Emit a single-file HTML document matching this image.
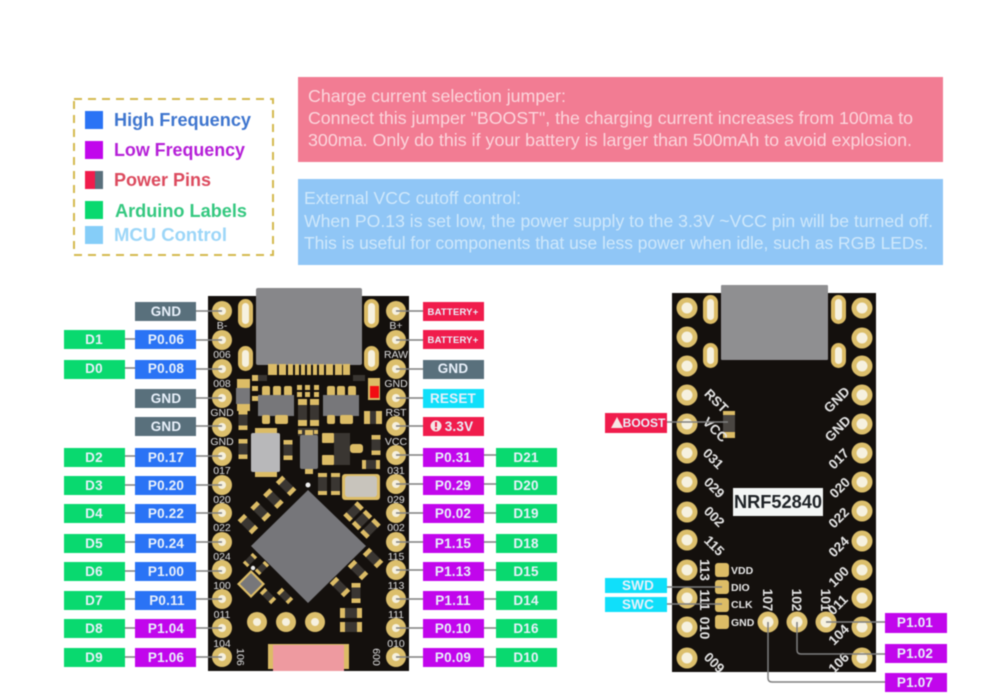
<!DOCTYPE html>
<html><head><meta charset="utf-8"><style>
html,body{margin:0;padding:0;background:#fff;width:982px;height:697px;overflow:hidden}
svg{display:block;filter:blur(.5px)}
text{font-family:"Liberation Sans",sans-serif}
.l{font-weight:bold;font-size:13.5px;fill:#e9f1fb;text-anchor:middle;letter-spacing:.2px}
.s{font-size:10.5px;fill:#dedede;text-anchor:middle}
.r{font-size:13.5px;fill:#e4e4e4;text-anchor:middle;font-weight:bold}
.p{font-size:17.5px;fill:#fbd5dc}
.q{font-size:17.5px;fill:#cfe8fb}
.k{font-weight:bold;font-size:18.5px}
.b{fill:#2a73f5}.u{fill:#c106ec}.g{fill:#09d96f}.y{fill:#59707c}.e{fill:#f01c4c}.c{fill:#10dffa}
.cn{stroke:#7f7f7f;stroke-width:1.5;fill:none}
.au{fill:#dcbc66}.dk{fill:#3a3632}.gr{fill:#77777a}
</style></head><body>
<svg width="982" height="697" viewBox="0 0 982 697" xmlns="http://www.w3.org/2000/svg">
<defs>
<g id="pa"><circle r="10" fill="#dcbf6c"/><circle r="4" fill="#f6f1df"/></g>
<g id="pb"><circle r="10.5" fill="#dcbf6c"/><circle r="5.5" fill="#f6f1df"/></g>
<g id="res"><rect x="-4.5" y="-10" width="9" height="20" class="dk"/><rect x="-4.5" y="-10" width="9" height="4.5" class="au"/><rect x="-4.5" y="5.5" width="9" height="4.5" class="au"/></g>
</defs>
<rect width="982" height="697" fill="#fff"/>

<!-- legend -->
<rect x="74" y="99" width="199" height="156" fill="#fff" stroke="#d4b94e" stroke-width="2" stroke-dasharray="8 6"/>
<rect x="85" y="111" width="18" height="18" fill="#2a73f5"/>
<rect x="85" y="141" width="18" height="18" fill="#c106ec"/>
<rect x="85" y="171" width="18" height="18" fill="#59707c"/><rect x="85" y="171" width="10" height="18" fill="#f01c4c"/>
<rect x="85" y="201" width="18" height="18" fill="#09d96f"/>
<rect x="85" y="226" width="18" height="18" fill="#85cdf8"/>
<text x="114" y="126" class="k" fill="#3f76cf" textLength="137" lengthAdjust="spacingAndGlyphs">High Frequency</text>
<text x="114" y="156" class="k" fill="#b51fd8" textLength="131" lengthAdjust="spacingAndGlyphs">Low Frequency</text>
<text x="114" y="186" class="k" fill="#dc4a5e" textLength="97" lengthAdjust="spacingAndGlyphs">Power Pins</text>
<text x="115" y="217" class="k" fill="#35c880" textLength="132" lengthAdjust="spacingAndGlyphs">Arduino Labels</text>
<text x="114" y="241" class="k" fill="#9cd6f8" textLength="113" lengthAdjust="spacingAndGlyphs">MCU Control</text>

<!-- panels -->
<rect x="298" y="77" width="645" height="85" fill="#f27c93"/>
<text x="308" y="102" class="p" textLength="258" lengthAdjust="spacingAndGlyphs">Charge current selection jumper:</text>
<text x="308" y="124" class="p" textLength="605" lengthAdjust="spacingAndGlyphs">Connect this jumper "BOOST", the charging current increases from 100ma to</text>
<text x="308" y="146" class="p" textLength="604" lengthAdjust="spacingAndGlyphs">300ma. Only do this if your battery is larger than 500mAh to avoid explosion.</text>
<rect x="298" y="179" width="645" height="86" fill="#90c6f6"/>
<text x="304" y="204" class="q" textLength="217" lengthAdjust="spacingAndGlyphs">External VCC cutoff control:</text>
<text x="304" y="227" class="q" textLength="629" lengthAdjust="spacingAndGlyphs">When PO.13 is set low, the power supply to the 3.3V ~VCC pin will be turned off.</text>
<text x="304" y="249" class="q" textLength="624" lengthAdjust="spacingAndGlyphs">This is useful for components that use less power when idle, such as RGB LEDs.</text>

<!-- left board -->
<rect x="208" y="296" width="201" height="375" fill="#14100d"/>
<rect x="238" y="299" width="15" height="29" rx="7.5" class="au"/><rect x="242" y="303" width="7" height="21" rx="3.5" fill="#f6f1df"/>
<rect x="364" y="299" width="15" height="29" rx="7.5" class="au"/><rect x="368" y="303" width="7" height="21" rx="3.5" fill="#f6f1df"/>
<rect x="238" y="346" width="15" height="25" rx="7.5" class="au"/><rect x="242" y="350" width="7" height="17" rx="3.5" fill="#f6f1df"/>
<rect x="364" y="346" width="15" height="25" rx="7.5" class="au"/><rect x="368" y="350" width="7" height="17" rx="3.5" fill="#f6f1df"/>
<rect x="256" y="288" width="106" height="77" rx="2" fill="#87878a"/>
<g class="au"><rect x="268" y="364" width="9" height="11"/><rect x="279" y="364" width="7" height="11"/><rect x="288" y="364" width="5" height="11"/><rect x="295" y="364" width="4" height="11"/><rect x="301" y="364" width="4" height="11"/><rect x="307" y="364" width="4" height="11"/><rect x="313" y="364" width="4" height="11"/><rect x="319" y="364" width="5" height="11"/><rect x="326" y="364" width="7" height="11"/><rect x="335" y="364" width="7" height="11"/><rect x="343" y="364" width="7" height="11"/></g>
<!-- upper parts -->
<rect x="237" y="379" width="13" height="10" class="au"/><rect x="237" y="403" width="13" height="8" class="au"/><rect x="236" y="388" width="14" height="16" class="gr"/>
<rect x="252" y="375" width="6" height="6" class="au"/><rect x="258" y="375" width="9" height="6" class="dk"/>
<rect x="252" y="386" width="6" height="5" class="au"/><rect x="252" y="396" width="6" height="5" class="au"/>
<rect x="262" y="386" width="8" height="10" rx="2" class="au"/><rect x="273" y="386" width="8" height="10" rx="2" class="au"/><rect x="284" y="386" width="8" height="10" rx="2" class="au"/>
<rect x="258" y="395" width="36" height="21" class="gr"/>
<rect x="262" y="415" width="8" height="9" rx="2" class="au"/><rect x="275" y="415" width="13" height="9" rx="2" class="au"/>
<rect x="327" y="386" width="8" height="10" rx="2" class="au"/><rect x="337" y="386" width="8" height="10" rx="2" class="au"/><rect x="348" y="386" width="8" height="10" rx="2" class="au"/>
<rect x="323" y="395" width="36" height="21" class="gr"/>
<rect x="327" y="415" width="8" height="9" rx="2" class="au"/><rect x="340" y="415" width="13" height="9" rx="2" class="au"/>
<g class="au"><rect x="297" y="385" width="5" height="5"/><rect x="305" y="385" width="5" height="5"/><rect x="314" y="385" width="5" height="5"/><rect x="297" y="392" width="5" height="5"/><rect x="305" y="392" width="5" height="5"/><rect x="314" y="392" width="5" height="5"/><rect x="298" y="399" width="9" height="6"/><rect x="310" y="399" width="9" height="6"/></g>
<rect x="298" y="405" width="9" height="15" class="dk"/><rect x="310" y="405" width="9" height="15" class="dk"/>
<rect x="298" y="420" width="9" height="6" class="au"/><rect x="310" y="420" width="9" height="6" class="au"/>
<rect x="298" y="428" width="20" height="8" class="dk"/><rect x="298" y="430" width="4" height="4" class="au"/><rect x="314" y="430" width="4" height="4" class="au"/>
<rect x="368" y="378" width="12" height="22" class="au"/><rect x="370" y="386" width="9" height="12" fill="#f20d12"/>
<rect x="353" y="375" width="12" height="6" class="dk"/>
<rect x="364" y="411" width="6" height="13" class="au"/><rect x="370" y="411" width="6" height="13" class="dk"/><rect x="376" y="411" width="6" height="13" class="au"/>
<use href="#res" x="243" y="420"/><use href="#res" x="243" y="449"/><use href="#res" x="288" y="450"/>
<rect x="255" y="428" width="22" height="6" class="au"/>
<rect x="251" y="433" width="29" height="39" rx="2" fill="#b8b8ba"/>
<rect x="255" y="472" width="22" height="5" class="au"/>
<rect x="300" y="435" width="18" height="34" rx="2" class="gr"/><rect x="305" y="430" width="8" height="5" class="au"/><rect x="305" y="469" width="8" height="5" class="au"/>
<rect x="322" y="433" width="12" height="10" rx="1" class="au"/><rect x="322" y="455" width="12" height="10" rx="1" class="au"/><rect x="334" y="433" width="16" height="32" class="dk"/><rect x="350" y="444" width="13" height="9" rx="3" class="au"/>
<use href="#res" x="376" y="445"/>
<rect x="362" y="460" width="18" height="9" class="dk"/><rect x="362" y="460" width="4" height="9" class="au"/><rect x="376" y="460" width="4" height="9" class="au"/>
<!-- crystal -->
<rect x="342" y="474" width="38" height="26" rx="3" class="au"/><rect x="345" y="476" width="32" height="21" rx="3" fill="#c8c4bc"/>
<rect x="318" y="473" width="9" height="22" class="dk"/><rect x="318" y="473" width="9" height="4" class="au"/><rect x="318" y="491" width="9" height="4" class="au"/>
<rect x="331" y="473" width="9" height="22" class="dk"/><rect x="331" y="473" width="9" height="4" class="au"/><rect x="331" y="491" width="9" height="4" class="au"/>
<!-- chip -->
<polygon points="308,490 366,546 308,603 251,546" fill="#76767a"/>
<circle cx="308" cy="485" r="2.5" fill="#eee"/>
<g transform="rotate(-45 267 505)"><use href="#res" x="240" y="505"/><use href="#res" x="258" y="505"/><use href="#res" x="276" y="505"/><use href="#res" x="294" y="505"/></g>
<g transform="rotate(45 362 520)"><use href="#res" x="350" y="520"/><use href="#res" x="362" y="520"/><use href="#res" x="374" y="520"/></g>
<use href="#res" transform="translate(373 558) rotate(-45)"/>
<use href="#res" transform="translate(358 570) rotate(-45)"/>
<use href="#res" transform="translate(340 587) rotate(-45)"/>
<use href="#res" x="356" y="593"/>
<rect x="340" y="608" width="22" height="10" class="dk"/><rect x="340" y="608" width="5" height="10" class="au"/><rect x="357" y="608" width="5" height="10" class="au"/>
<rect x="340" y="622" width="22" height="10" class="dk"/><rect x="340" y="622" width="5" height="10" class="au"/><rect x="357" y="622" width="5" height="10" class="au"/>
<polygon points="251,570 265,584 251,598 237,584" class="au"/><polygon points="251,573 262,584 251,595 240,584" class="gr"/>
<use href="#res" transform="translate(250 560) rotate(45) scale(.7)"/>
<use href="#res" transform="translate(262 568) rotate(45) scale(.7)"/>
<use href="#res" transform="translate(268 596) rotate(-45) scale(.8)"/>
<use href="#res" transform="translate(285 596) rotate(-45) scale(.8)"/>
<circle cx="253" cy="568" r="2.2" fill="#eee"/>
<use href="#pa" x="257" y="622"/><use href="#pa" x="286" y="622"/><use href="#pa" x="315" y="622"/>
<rect x="268" y="644" width="81" height="25" class="au"/><rect x="273" y="645" width="71" height="26" fill="#ee9aa0"/>
<g>
<use href="#pa" x="222" y="311"/><use href="#pa" x="222" y="340"/><use href="#pa" x="222" y="369"/><use href="#pa" x="222" y="398"/><use href="#pa" x="222" y="427"/><use href="#pa" x="222" y="456"/><use href="#pa" x="222" y="485"/><use href="#pa" x="222" y="513"/><use href="#pa" x="222" y="542"/><use href="#pa" x="222" y="570"/><use href="#pa" x="222" y="599"/><use href="#pa" x="222" y="628"/><use href="#pa" x="222" y="657"/>
<use href="#pa" x="396" y="311"/><use href="#pa" x="396" y="340"/><use href="#pa" x="396" y="369"/><use href="#pa" x="396" y="398"/><use href="#pa" x="396" y="426"/><use href="#pa" x="396" y="455"/><use href="#pa" x="396" y="484"/><use href="#pa" x="396" y="513"/><use href="#pa" x="396" y="542"/><use href="#pa" x="396" y="570"/><use href="#pa" x="396" y="599"/><use href="#pa" x="396" y="628"/><use href="#pa" x="396" y="657"/>
</g>
<text x="222" y="329" class="s">B-</text><text x="222" y="358" class="s">006</text><text x="222" y="387" class="s">008</text><text x="222" y="416" class="s">GND</text><text x="222" y="445" class="s">GND</text><text x="222" y="474" class="s">017</text><text x="222" y="503" class="s">020</text><text x="222" y="531" class="s">022</text><text x="222" y="560" class="s">024</text><text x="222" y="589" class="s">100</text><text x="222" y="618" class="s">011</text><text x="222" y="647" class="s">104</text>
<text x="396" y="329" class="s">B+</text><text x="396" y="358" class="s">RAW</text><text x="396" y="387" class="s">GND</text><text x="396" y="416" class="s">RST</text><text x="396" y="445" class="s">VCC</text><text x="396" y="474" class="s">031</text><text x="396" y="503" class="s">029</text><text x="396" y="531" class="s">002</text><text x="396" y="560" class="s">115</text><text x="396" y="589" class="s">113</text><text x="396" y="618" class="s">111</text><text x="396" y="647" class="s">010</text>
<text transform="translate(237,657) rotate(90)" class="s">106</text>
<text transform="translate(380,657) rotate(-90)" class="s">009</text>

<!-- left connectors -->
<g class="cn">
<path d="M196 311H222M125 339H135M196 340H222M125 368H135M196 369H222M196 398H222M196 426H222M125 456H135M196 456H222M125 485H135M196 485H222M125 513H135M196 513H222M125 542H135M196 542H222M125 571H135M196 571H222M125 599H135M196 599H222M125 628H135M196 628H222M125 657H135M196 657H222"/>
<path d="M396 311H423M396 340H423M396 369H423M396 398H423M396 426H423M396 455H423M484 455H496M396 484H423M484 484H496M396 513H423M484 513H496M396 542H423M484 542H496M396 570H423M484 570H496M396 599H423M484 599H496M396 628H423M484 628H496M396 657H423M484 657H496"/>
</g>
<!-- left labels -->
<rect x="135" y="302" width="61" height="19" class="y"/><text x="166" y="316" class="l">GND</text>
<rect x="135" y="330" width="61" height="19" class="b"/><text x="166" y="344" class="l">P0.06</text>
<rect x="135" y="360" width="61" height="19" class="b"/><text x="166" y="373" class="l">P0.08</text>
<rect x="135" y="389" width="61" height="19" class="y"/><text x="166" y="403" class="l">GND</text>
<rect x="135" y="417" width="61" height="19" class="y"/><text x="166" y="431" class="l">GND</text>
<rect x="135" y="448" width="61" height="19" class="b"/><text x="166" y="462" class="l">P0.17</text>
<rect x="135" y="476" width="61" height="19" class="b"/><text x="166" y="490" class="l">P0.20</text>
<rect x="135" y="504" width="61" height="19" class="b"/><text x="166" y="518" class="l">P0.22</text>
<rect x="135" y="534" width="61" height="19" class="b"/><text x="166" y="548" class="l">P0.24</text>
<rect x="135" y="562" width="61" height="19" class="b"/><text x="166" y="576" class="l">P1.00</text>
<rect x="135" y="591" width="61" height="19" class="b"/><text x="167" y="605" class="l">P0.11</text>
<rect x="135" y="619" width="61" height="19" class="u"/><text x="166" y="633" class="l">P1.04</text>
<rect x="135" y="648" width="61" height="19" class="u"/><text x="166" y="662" class="l">P1.06</text>
<rect x="64" y="330" width="61" height="19" class="g"/><text x="94" y="344" class="l">D1</text>
<rect x="64" y="360" width="61" height="19" class="g"/><text x="94" y="373" class="l">D0</text>
<rect x="64" y="448" width="61" height="19" class="g"/><text x="94" y="462" class="l">D2</text>
<rect x="64" y="476" width="61" height="19" class="g"/><text x="94" y="490" class="l">D3</text>
<rect x="64" y="504" width="61" height="19" class="g"/><text x="94" y="518" class="l">D4</text>
<rect x="64" y="534" width="61" height="19" class="g"/><text x="94" y="548" class="l">D5</text>
<rect x="64" y="562" width="61" height="19" class="g"/><text x="94" y="576" class="l">D6</text>
<rect x="64" y="591" width="61" height="19" class="g"/><text x="94" y="605" class="l">D7</text>
<rect x="64" y="619" width="61" height="19" class="g"/><text x="94" y="633" class="l">D8</text>
<rect x="64" y="648" width="61" height="19" class="g"/><text x="94" y="662" class="l">D9</text>
<!-- right labels -->
<rect x="423" y="302" width="61" height="19" class="e"/><text x="453" y="315" class="l" style="font-size:9.5px;letter-spacing:.2px">BATTERY+</text>
<rect x="423" y="330" width="61" height="19" class="e"/><text x="453" y="343" class="l" style="font-size:9.5px;letter-spacing:.2px">BATTERY+</text>
<rect x="423" y="360" width="61" height="19" class="y"/><text x="453" y="373" class="l">GND</text>
<rect x="423" y="389" width="61" height="19" class="c"/><text x="453" y="403" class="l">RESET</text>
<rect x="423" y="417" width="61" height="19" class="e"/><circle cx="436" cy="426" r="5.5" fill="#f4e6e6"/><rect x="435" y="422" width="2" height="5" fill="#f01c4c"/><rect x="435" y="428" width="2" height="2" fill="#f01c4c"/><text x="459" y="431" class="l">3.3V</text>
<rect x="423" y="448" width="61" height="19" class="u"/><text x="453" y="462" class="l">P0.31</text>
<rect x="423" y="476" width="61" height="19" class="u"/><text x="453" y="490" class="l">P0.29</text>
<rect x="423" y="504" width="61" height="19" class="u"/><text x="453" y="518" class="l">P0.02</text>
<rect x="423" y="534" width="61" height="19" class="u"/><text x="453" y="548" class="l">P1.15</text>
<rect x="423" y="562" width="61" height="19" class="u"/><text x="453" y="576" class="l">P1.13</text>
<rect x="423" y="591" width="61" height="19" class="u"/><text x="453" y="605" class="l">P1.11</text>
<rect x="423" y="619" width="61" height="19" class="u"/><text x="453" y="633" class="l">P0.10</text>
<rect x="423" y="648" width="61" height="19" class="u"/><text x="453" y="662" class="l">P0.09</text>
<rect x="496" y="448" width="61" height="19" class="g"/><text x="526" y="462" class="l">D21</text>
<rect x="496" y="476" width="61" height="19" class="g"/><text x="526" y="490" class="l">D20</text>
<rect x="496" y="504" width="61" height="19" class="g"/><text x="526" y="518" class="l">D19</text>
<rect x="496" y="534" width="61" height="19" class="g"/><text x="526" y="548" class="l">D18</text>
<rect x="496" y="562" width="61" height="19" class="g"/><text x="526" y="576" class="l">D15</text>
<rect x="496" y="591" width="61" height="19" class="g"/><text x="526" y="605" class="l">D14</text>
<rect x="496" y="619" width="61" height="19" class="g"/><text x="526" y="633" class="l">D16</text>
<rect x="496" y="648" width="61" height="19" class="g"/><text x="526" y="662" class="l">D10</text>

<!-- right board -->
<rect x="672" y="293" width="204" height="379" fill="#14100d"/>
<rect x="703" y="295" width="15" height="29" rx="7.5" class="au"/><rect x="707" y="299" width="7" height="21" rx="3.5" fill="#f6f1df"/>
<rect x="831" y="295" width="15" height="29" rx="7.5" class="au"/><rect x="835" y="299" width="7" height="21" rx="3.5" fill="#f6f1df"/>
<rect x="703" y="343" width="15" height="25" rx="7.5" class="au"/><rect x="707" y="347" width="7" height="17" rx="3.5" fill="#f6f1df"/>
<rect x="831" y="343" width="15" height="25" rx="7.5" class="au"/><rect x="835" y="347" width="7" height="17" rx="3.5" fill="#f6f1df"/>
<rect x="721" y="285" width="107" height="75" rx="1" fill="#8f8f91"/>
<g>
<use href="#pb" x="687" y="308"/><use href="#pb" x="687" y="337"/><use href="#pb" x="687" y="366"/><use href="#pb" x="687" y="395"/><use href="#pb" x="687" y="424"/><use href="#pb" x="687" y="453"/><use href="#pb" x="687" y="482"/><use href="#pb" x="687" y="512"/><use href="#pb" x="687" y="540"/><use href="#pb" x="687" y="570"/><use href="#pb" x="687" y="598"/><use href="#pb" x="687" y="627"/><use href="#pb" x="687" y="658"/>
<use href="#pb" x="862" y="308"/><use href="#pb" x="862" y="338"/><use href="#pb" x="862" y="366"/><use href="#pb" x="862" y="395"/><use href="#pb" x="862" y="424"/><use href="#pb" x="862" y="453"/><use href="#pb" x="862" y="482"/><use href="#pb" x="862" y="511"/><use href="#pb" x="862" y="541"/><use href="#pb" x="862" y="570"/><use href="#pb" x="862" y="598"/><use href="#pb" x="862" y="627"/><use href="#pb" x="862" y="658"/>
</g>
<rect x="723" y="411" width="12" height="27" class="au"/><rect x="723" y="415" width="12" height="17" fill="#4a4642"/>
<rect x="733" y="488" width="90" height="28" fill="#f4f6f5"/>
<text x="734" y="508" style="font-weight:bold;font-size:18px;fill:#1e2226" textLength="88" lengthAdjust="spacingAndGlyphs">NRF52840</text>
<g>
<text transform="translate(713,404) rotate(45)" class="r">RST</text>
<text transform="translate(712,433) rotate(45)" class="r">VCC</text>
<text transform="translate(710,462) rotate(45)" class="r">031</text>
<text transform="translate(711,491) rotate(45)" class="r">029</text>
<text transform="translate(711,520) rotate(45)" class="r">002</text>
<text transform="translate(711,549) rotate(45)" class="r">115</text>
<text transform="translate(700,570) rotate(90)" class="r">113</text>
<text transform="translate(700,600) rotate(90)" class="r">111</text>
<text transform="translate(700,628) rotate(90)" class="r">010</text>
<text transform="translate(711,666) rotate(45)" class="r">009</text>
<text transform="translate(840,403) rotate(-45)" class="r">GND</text>
<text transform="translate(841,432) rotate(-45)" class="r">GND</text>
<text transform="translate(842,462) rotate(-45)" class="r">017</text>
<text transform="translate(843,491) rotate(-45)" class="r">020</text>
<text transform="translate(842,521) rotate(-45)" class="r">022</text>
<text transform="translate(842,550) rotate(-45)" class="r">024</text>
<text transform="translate(842,580) rotate(-45)" class="r">100</text>
<text transform="translate(841,608) rotate(-45)" class="r">011</text>
<text transform="translate(842,638) rotate(-45)" class="r">104</text>
<text transform="translate(842,666) rotate(-45)" class="r">106</text>
<text transform="translate(763,600) rotate(90)" class="r">107</text>
<text transform="translate(792,600) rotate(90)" class="r">102</text>
<text transform="translate(821,600) rotate(90)" class="r">101</text>
</g>
<rect x="715" y="563" width="14" height="14" rx="3" class="au"/><rect x="715" y="580" width="14" height="14" rx="3" class="au"/><rect x="715" y="598" width="14" height="14" rx="3" class="au"/><rect x="715" y="615" width="14" height="14" rx="3" class="au"/>
<text x="731" y="574" style="font-size:10.5px;font-weight:bold;fill:#e6e6e6">VDD</text>
<text x="731" y="591" style="font-size:10.5px;font-weight:bold;fill:#e6e6e6">DIO</text>
<text x="731" y="608" style="font-size:10.5px;font-weight:bold;fill:#e6e6e6">CLK</text>
<text x="731" y="626" style="font-size:10.5px;font-weight:bold;fill:#e6e6e6">GND</text>
<use href="#pb" x="768" y="622"/><use href="#pb" x="797" y="622"/><use href="#pb" x="826" y="622"/>
<g class="cn">
<path d="M667 422H728M667 587H722M667 604H722M826 622H885M797 622V650Q797 654 801 654H885M768 622V678Q768 682 772 682H885"/>
</g>
<rect x="605" y="413" width="62" height="20" class="e"/><polygon points="617,417 623,428 611,428" fill="#f6e6e6"/>
<text x="644" y="427" class="l" style="font-size:12px;letter-spacing:0">BOOST</text>
<rect x="605" y="578" width="62" height="15" class="c"/><text x="638" y="590" class="l">SWD</text>
<rect x="605" y="597" width="62" height="15" class="c"/><text x="638" y="609" class="l">SWC</text>
<rect x="885" y="613" width="62" height="20" class="u"/><text x="915" y="627" class="l">P1.01</text>
<rect x="885" y="644" width="62" height="19" class="u"/><text x="915" y="658" class="l">P1.02</text>
<rect x="885" y="673" width="62" height="19" class="u"/><text x="915" y="687" class="l">P1.07</text>
</svg>
</body></html>
